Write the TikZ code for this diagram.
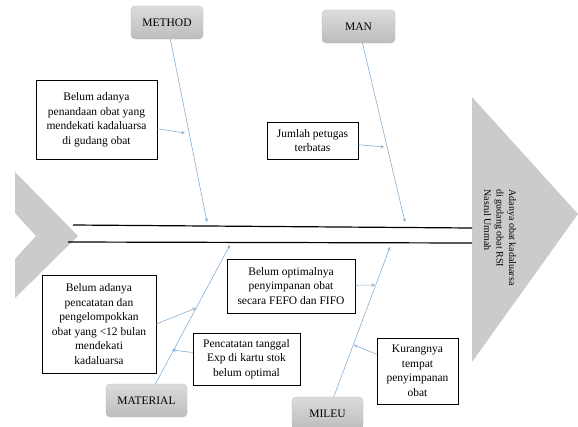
\documentclass[tikz,border=0pt]{standalone}
\usepackage{fontspec}
\setmainfont{Liberation Serif}
\usetikzlibrary{arrows}
\definecolor{boneblue}{RGB}{135,175,210}
\definecolor{fishgray}{RGB}{203,203,203}
\tikzset{
  bone/.style={draw=boneblue, line width=0.6pt, -stealth},
  cause/.style={draw, fill=white, line width=0.7pt, align=center, inner sep=0pt,
    font=\fontsize{11.5}{14.5}\selectfont},
  catbox/.style={rounded corners=4pt, top color=gray!28, bottom color=gray!52,
    draw=gray!55, line width=0.3pt, inner sep=0pt, minimum height=33pt,
    font=\fontsize{11.5}{14}\selectfont},
  spine/.style={line width=1.2pt}
}
\begin{document}
\begin{tikzpicture}[x=1pt,y=-1pt]
\useasboundingbox (0,0) rectangle (578,426);

\fill[fishgray] (15,172) -- (78,236) -- (15,298) -- (15,259) -- (36,236) -- (15,213) -- cycle;
\fill[fishgray] (472,97) -- (578,214) -- (472,362) -- cycle;

\coordinate (A) at (73,225);
\coordinate (B) at (472,228);
\coordinate (C) at (68,242);
\coordinate (D) at (472,243);
\draw[spine] (A) -- (B);
\draw[spine] (C) -- (D);

\node[catbox, minimum width=72pt] (method) at (167,22.5) {METHOD};
\node[catbox, minimum width=73pt] (man) at (358.5,26.5) {MAN};
\node[catbox, minimum width=81pt] (material) at (146.5,400.5) {MATERIAL};
\node[catbox, minimum width=71pt] (mileu) at (327.5,413.5) {MILEU};

\coordinate (methodEnd) at (207,222);
\coordinate (manEnd) at (405,222);
\coordinate (materialEnd) at (230,245);
\coordinate (mileuEnd) at (390,247);
\draw[bone] (method) -- (methodEnd);
\draw[bone] (man) -- (manEnd);
\draw[bone] (material) -- (materialEnd);
\draw[bone] (mileu) -- (mileuEnd);

\node[cause, minimum width=121pt, minimum height=79pt] (c1) at (96.5,119.5)
  {Belum adanya\\penandaan obat yang\\mendekati kadaluarsa\\di gudang obat};
\node[cause, minimum width=91pt, minimum height=37pt] (c2) at (312.5,140.5)
  {Jumlah petugas\\terbatas};
\node[cause, minimum width=114pt, minimum height=98pt] (c3) at (99,324)
  {Belum adanya\\pencatatan dan\\pengelompokkan\\obat yang <12 bulan\\mendekati\\kadaluarsa};
\node[cause, minimum width=107pt, minimum height=52pt] (c4) at (246.5,359)
  {Pencatatan tanggal\\Exp di kartu stok\\belum optimal};
\node[cause, minimum width=128pt, minimum height=54pt] (c5) at (291,286)
  {Belum optimalnya\\penyimpanan obat\\secara FEFO dan FIFO};
\node[cause, minimum width=81pt, minimum height=66pt] (c6) at (417.5,371)
  {Kurangnya\\tempat\\penyimpanan\\obat};

\coordinate (m1) at (185,133);
\coordinate (m2) at (384,147);
\coordinate (m3) at (196,308);
\coordinate (m4) at (172,350);
\coordinate (m5) at (375,285);
\coordinate (m6) at (354,345);
\draw[bone] (c1) -- (m1);
\draw[bone] (c2) -- (m2);
\draw[bone] (c3.east) -- (m3);
\draw[bone] (c4) -- (m4);
\draw[bone] (c5) -- (m5);
\draw[bone] (c6) -- (m6);

\node[rotate=-90, align=left, font=\fontsize{10}{12.5}\selectfont] (effect) at (500,237.5)
  {Adanya obat kadaluarsa\\di gudang obat RSI\\Nasrul Ummah};
\end{tikzpicture}
\end{document}
